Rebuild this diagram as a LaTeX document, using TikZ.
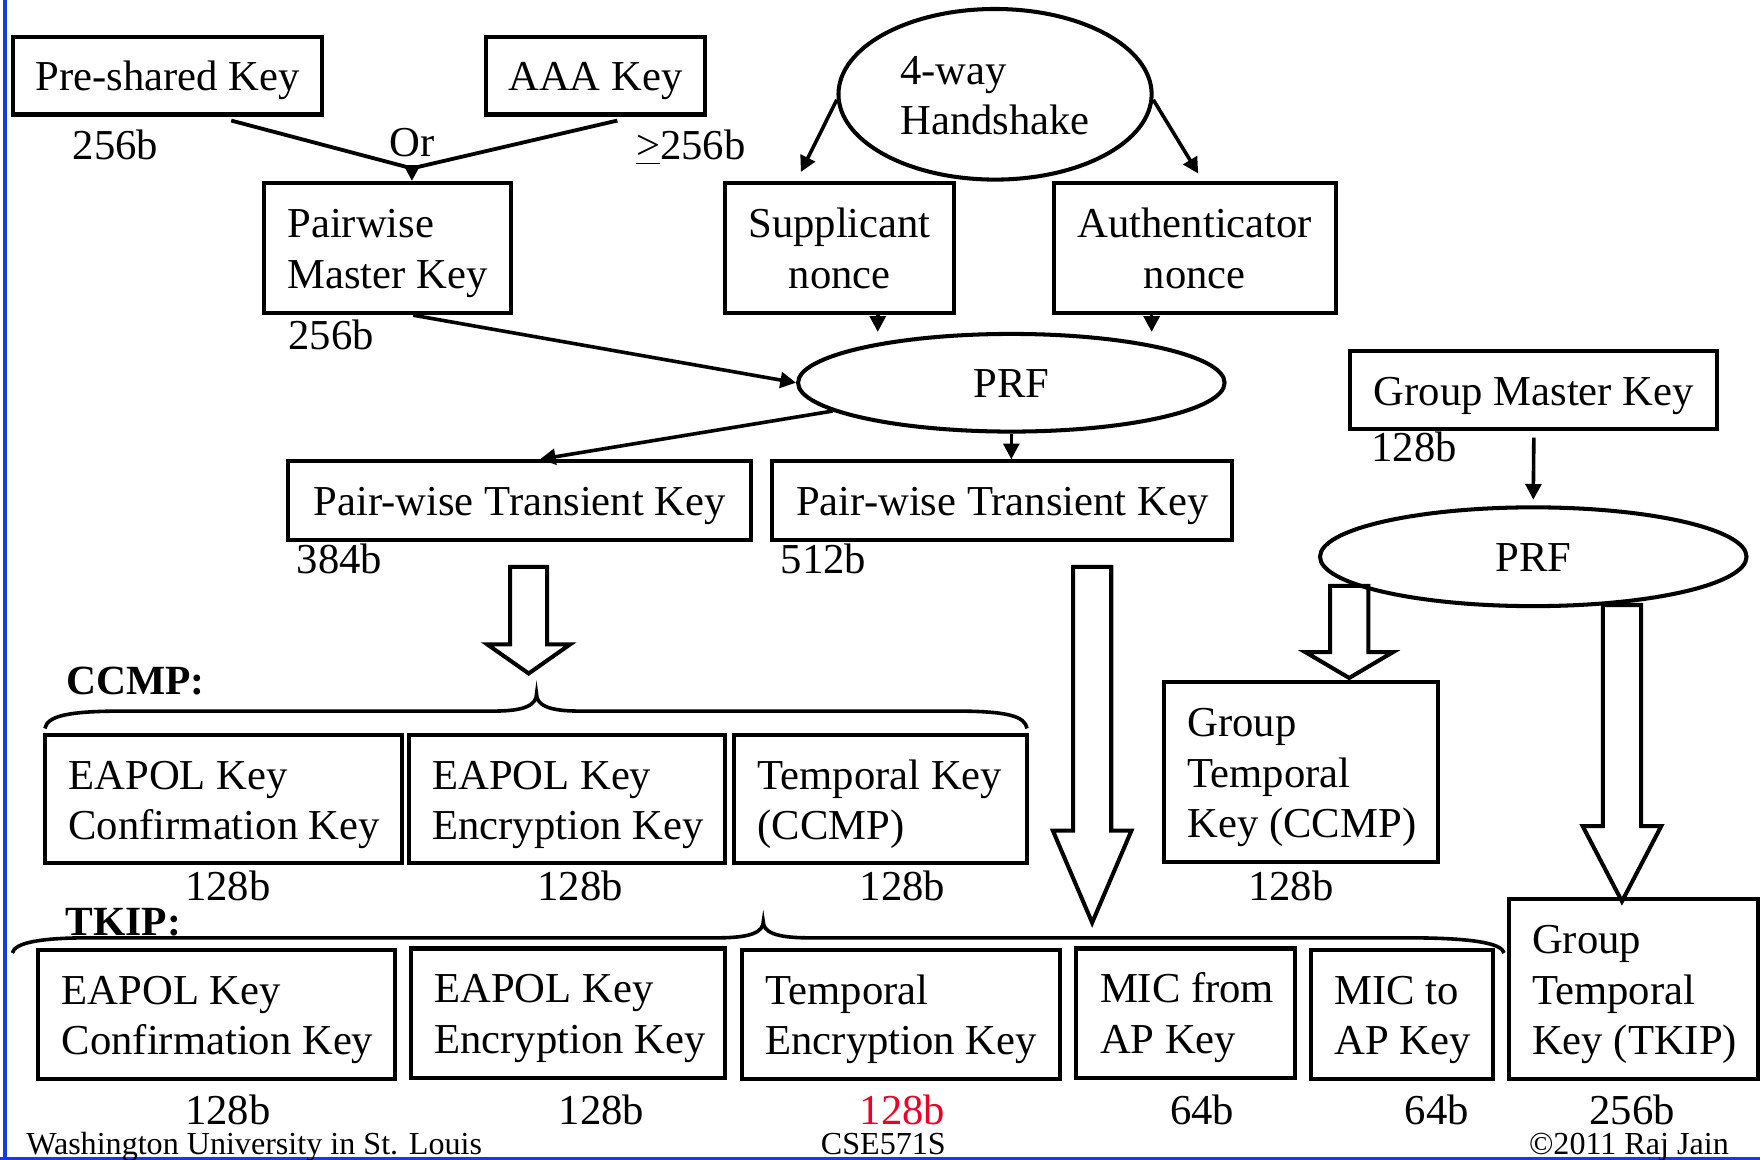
\documentclass[tikz,border=0pt]{standalone}
\usepackage{fontspec}
\setmainfont{Liberation Serif}
\usetikzlibrary{shapes.geometric,arrows.meta}
\newcommand\myline[1]{\mbox{\spaceskip=0pt\xspaceskip=0pt\rule[-4.5pt]{0pt}{22.5pt}#1}}
\definecolor{slideblue}{RGB}{20,60,230}
\definecolor{numred}{RGB}{235,0,40}
\begin{document}
\begin{tikzpicture}[x=0.5pt,y=-0.5pt,
  every node/.style={font=\fontsize{19pt}{22.5pt}\selectfont, inner sep=0pt},
  box/.style={draw, rectangle, line width=1.8pt},
  sz/.style 2 args={minimum width=#1, minimum height=#2},
  ell/.style={draw, ellipse, line width=1.8pt},
  conn/.style={line width=1.6pt, -{Triangle[length=7pt,width=7pt]}},
  link/.style={line width=1.7pt},
  hollow/.style={draw, line width=1.8pt, line join=miter},
  brace/.style={line width=1.6pt},
  num/.style={anchor=base},
  bold/.style={anchor=base, font=\fontsize{18.5pt}{22.5pt}\selectfont\bfseries},
  foot/.style={font=\fontsize{14.3pt}{17pt}\selectfont}
]
\useasboundingbox (0,0) rectangle (1568,1033);
% slide frame
\draw[slideblue, line width=1.8pt] (4.7,0) -- (4.7,1033);
\draw[slideblue, line width=1.3pt] (0,1032) -- (1568,1032);

% top part
\node[box, sz={137.5pt}{34.5pt}] (psk) at (149.5,67.5) {\myline{Pre-shared Key}};
\node[box, sz={97.5pt}{34.5pt}] (aaa) at (530.5,67.5) {\myline{AAA Key}};
\node[ell, sz={139.5pt}{76pt}, align=left] (hs) at (886.5,84) {\myline{4-way}\\\myline{Handshake}};
\node[box, sz={110pt}{58pt}, align=left, text width=89pt] (pmk) at (345,221) {\myline{Pairwise}\\\myline{Master Key}};
\node[box, sz={102pt}{58pt}, align=center] (sup) at (748,221) {\myline{Supplicant}\\\myline{nonce}};
\node[box, sz={125.5pt}{58pt}, align=center] (auth) at (1064.5,221) {\myline{Authenticator}\\\myline{nonce}};
\node[ell, sz={190pt}{43.5pt}] (prf) at (901,341) {\myline{PRF}};
\node[box, sz={206pt}{35pt}] (ptka) at (463,446) {\myline{Pair-wise Transient Key}};
\node[box, sz={205pt}{35pt}] (ptkb) at (893,446) {\myline{Pair-wise Transient Key}};
\node[box, sz={163.5pt}{34.5pt}] (gmk) at (1366.5,347.5) {\myline{Group Master Key}};
\node[ell, sz={190pt}{44pt}] (prfg) at (1366,496) {\myline{PRF}};

% group CCMP
\node[box, sz={122pt}{80pt}, align=left, text width=101pt] (gtkc) at (1159,688) {\myline{Group}\\\myline{Temporal}\\\myline{Key (CCMP)}};

% CCMP row
\node[box, sz={159pt}{57pt}, align=left, text width=138pt] (cck) at (199,712) {\myline{EAPOL Key}\\\myline{Confirmation Key}};
\node[box, sz={141pt}{57pt}, align=left, text width=120pt] (cek) at (505,712) {\myline{EAPOL Key}\\\myline{Encryption Key}};
\node[box, sz={130.5pt}{57pt}, align=left, text width=109.5pt] (ctk) at (784.5,712) {\myline{Temporal Key}\\\myline{(CCMP)}};

% TKIP row
\node[box, sz={159pt}{57.5pt}, align=left, text width=138pt] (tck) at (193,903.5) {\myline{EAPOL Key}\\\myline{Confirmation Key}};
\node[box, sz={140pt}{57.5pt}, align=left, text width=119pt] (tek) at (506,902.5) {\myline{EAPOL Key}\\\myline{Encryption Key}};
\node[box, sz={141.5pt}{57.5pt}, align=left, text width=120.5pt] (ttek) at (802.5,903.5) {\myline{Temporal}\\\myline{Encryption Key}};
\node[box, sz={97.5pt}{57.5pt}, align=left, text width=76.5pt] (micf) at (1056.5,902.5) {\myline{MIC from}\\\myline{AP Key}};
\node[box, sz={81pt}{57.5pt}, align=left, text width=60pt] (mict) at (1249,903.5) {\myline{MIC to}\\\myline{AP Key}};
\node[box, sz={111pt}{80pt}, align=left, text width=90pt] (gtkt) at (1455,881) {\myline{Group}\\\myline{Temporal}\\\myline{Key (TKIP)}};

% connectors
\coordinate (orj) at (367,150);
\draw[link] ([xshift=28.25pt,yshift=-1.8pt]psk.south) -- (orj);
\draw[link] ([xshift=9.75pt,yshift=-1.8pt]aaa.south) -- (orj);
\draw[conn] (orj) -- (orj |- pmk.north);
\draw[conn] (hs.182) -- ([xshift=-17.25pt,yshift=4pt]sup.north);
\draw[conn] (hs.358) -- ([xshift=1.5pt,yshift=3.3pt]auth.north);
\draw[conn] ([xshift=17pt]sup.south) -- ([xshift=17pt]sup.south |- prf.north);
\draw[conn] ([xshift=-19.25pt]auth.south) -- ([xshift=-19.25pt]auth.south |- prf.north);
\draw[conn] ([xshift=11.5pt]pmk.south) -- (prf.west);
\draw[conn] (prf.189) -- ([xshift=9pt]ptka.north);
\draw[conn] (prf.south) -- (prf.south |- ptkb.north);
\draw[conn] ([yshift=-3pt]gmk.south) -- ([yshift=2.5pt]prfg.north);

% hollow block arrows
\draw[hollow] (454.5,505) -- (487.5,505) -- (487.5,574) -- (508,574) -- (471,600) -- (434,574) -- (454.5,574) -- cycle;
\draw[hollow] (956,505) -- (990,505) -- (990,740) -- (1008,740) -- (973,822) -- (938,740) -- (956,740) -- cycle;
\draw[hollow] (1185,522) -- (1219,522) -- (1219,581) -- (1241,581) -- (1202,604) -- (1163,581) -- (1185,581) -- cycle;
\draw[hollow] (1428,539) -- (1462,539) -- (1462,736) -- (1480,736) -- (1445,803) -- (1410,736) -- (1428,736) -- cycle;

% braces
\draw[brace] (40,649) .. controls (42,638) and (60,633.5) .. (110,633.5) -- (440,633.5) .. controls (468,633.5) and (478,628) .. (478,618) .. controls (478,628) and (488,633.5) .. (516,633.5) -- (850,633.5) .. controls (898,633.5) and (913,638) .. (915,649);
\draw[brace] (11,849) .. controls (13,840) and (35,835.5) .. (80,835.5) -- (640,835.5) .. controls (670,835.5) and (680,830) .. (680,821) .. controls (680,830) and (690,835.5) .. (720,835.5) -- (1253,835.5) .. controls (1310,835.5) and (1338,840) .. (1340,849);

% size labels
\node[num] (b1) at (103,142.5) {256b};
\node[num] (orl) at (367,139.6) {Or};
\node[num] (b2) at (615.5,142.5) {\underline{>}256b};
\node[num] (b3) at (295,311.8) {256b};
\node[num] (b4) at (302.5,510.5) {384b};
\node[num] (b5) at (733.5,510.5) {512b};
\node[num] (b6) at (1260,411) {128b};
\node[bold] (ccmp) at (120.5,619) {CCMP:};
\node[bold] (tkip) at (110,833) {TKIP:};
\node[num] (c1) at (203,802) {128b};
\node[num] (c2) at (517,802) {128b};
\node[num] (c3) at (804,802) {128b};
\node[num] (c4) at (1150,802) {128b};
\node[num] (t1) at (203,1002) {128b};
\node[num] (t2) at (536,1002) {128b};
\node[num, text=numred] (t3) at (804,1002) {128b};
\node[num] (t4) at (1071,1002) {64b};
\node[num] (t5) at (1280,1002) {64b};
\node[num] (t6) at (1454,1002) {256b};

% footer
\node[foot, anchor=base west] (f1) at (23,1028.5) {Washington University in St. Louis};
\node[foot, anchor=base] (f2) at (787,1028.5) {CSE571S};
\node[foot, anchor=base east] (f3) at (1540.6,1028.5) {\textcopyright 2011 Raj Jain};
\end{tikzpicture}
\end{document}
